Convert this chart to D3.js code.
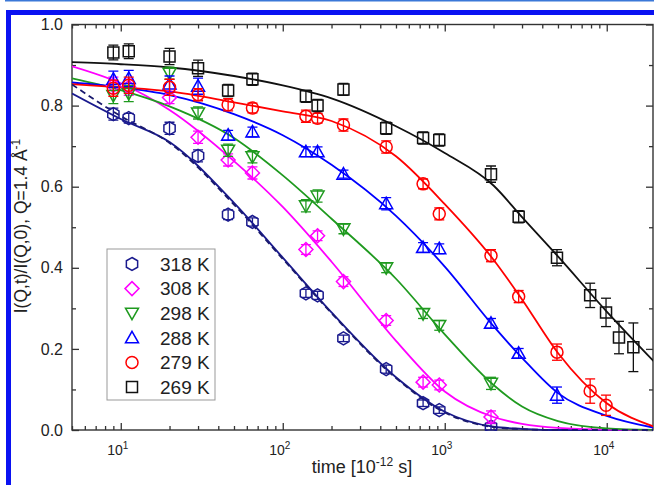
<!DOCTYPE html>
<html><head><meta charset="utf-8">
<script src="https://cdn.jsdelivr.net/npm/d3@7"></script>
<style>
body{margin:0;background:#fff}
svg{display:block}
text{font-family:Arial,"Liberation Sans",sans-serif;fill:#222}
</style>
</head><body>
<svg id="chart" width="654" height="485"></svg>
<script>
// ---- data ----
const times = [9, 11.2, 20, 30, 46, 65, 139, 164, 237, 435, 735, 925, 1930, 2860, 4930, 7900, 9900, 11900, 14600];
const seriesNames = ["318 K", "308 K", "298 K", "288 K", "279 K", "269 K"];
const seriesColors = ["#1a1a8e", "#ff00ff", "#1f9a1f", "#0000ff", "#ff0000", "#111111"];
const seriesShapes = ["hexagon", "diamond", "triDown", "triUp", "circle", "square"];

const v318 = [0.779, 0.769, 0.744, 0.676, 0.531, 0.513, 0.337, 0.332, 0.226, 0.150, 0.066, 0.049, 0.008];
const v308 = [0.850, 0.845, 0.820, 0.722, 0.666, 0.634, 0.445, 0.479, 0.366, 0.270, 0.118, 0.111, 0.032];
const v298 = [0.825, 0.830, 0.880, 0.782, 0.690, 0.674, 0.553, 0.577, 0.496, 0.400, 0.287, 0.258, 0.115];
const v288 = [0.865, 0.867, 0.853, 0.848, 0.727, 0.735, 0.686, 0.686, 0.631, 0.558, 0.450, 0.447, 0.263, 0.189, 0.086];
const v279 = [0.843, 0.850, 0.845, 0.827, 0.802, 0.794, 0.774, 0.769, 0.752, 0.698, 0.607, 0.533, 0.430, 0.329, 0.192, 0.096, 0.061];
const v269 = [0.931, 0.934, 0.921, 0.892, 0.837, 0.865, 0.823, 0.800, 0.840, 0.744, 0.720, 0.715, 0.631, 0.526, 0.425, 0.332, 0.290, 0.228, 0.204];

const e318 = [0.015, 0.012, 0.015, 0.015, 0.012, 0.010, 0.010, 0.010, 0.008, 0.010, 0.008, 0.008, 0.008];
const e308 = [0.020, 0.020, 0.015, 0.015, 0.015, 0.015, 0.012, 0.012, 0.012, 0.012, 0.012, 0.012, 0.015];
const e298 = [0.020, 0.020, 0.015, 0.015, 0.015, 0.015, 0.015, 0.015, 0.012, 0.012, 0.012, 0.012, 0.015];
const e288 = [0.020, 0.020, 0.020, 0.020, 0.012, 0.012, 0.012, 0.012, 0.010, 0.015, 0.012, 0.012, 0.012, 0.012, 0.020];
const e279 = [0.020, 0.020, 0.020, 0.015, 0.015, 0.012, 0.015, 0.012, 0.015, 0.015, 0.012, 0.015, 0.015, 0.015, 0.020, 0.030, 0.025];
const e269 = [0.018, 0.018, 0.020, 0.020, 0.015, 0.015, 0.015, 0.015, 0.015, 0.015, 0.015, 0.015, 0.020, 0.015, 0.020, 0.030, 0.035, 0.040, 0.060];

// fit curves
const fitT = [5, 10, 20, 50, 100, 200, 500, 1000, 2000, 3000, 5000, 10000, 20000];
const fit318 = [0.830, 0.767, 0.710, 0.560, 0.425, 0.290, 0.130, 0.045, 0.008, 0.003, 0.000, 0.000, 0.000];
const fit318dash = [0.852, 0.774, 0.708, 0.556, 0.422, 0.288, 0.128, 0.043, 0.007, 0.002, 0.000, 0.000, 0.000];
const fit308 = [0.897, 0.855, 0.789, 0.663, 0.550, 0.415, 0.220, 0.095, 0.032, 0.015, 0.005, 0.001, 0.000];
const fit298 = [0.867, 0.838, 0.798, 0.720, 0.628, 0.521, 0.373, 0.236, 0.111, 0.058, 0.022, 0.004, 0.000];
const fit288 = [0.857, 0.845, 0.826, 0.779, 0.727, 0.654, 0.528, 0.403, 0.256, 0.178, 0.091, 0.035, 0.005];
const fit279 = [0.853, 0.845, 0.835, 0.808, 0.786, 0.762, 0.675, 0.557, 0.420, 0.322, 0.190, 0.066, 0.007];
const fit269 = [0.907, 0.902, 0.894, 0.873, 0.850, 0.818, 0.749, 0.683, 0.603, 0.525, 0.428, 0.292, 0.165];

const xMajorTicks = [10, 100, 1000, 10000];
const xMajorLabels = ["1", "2", "3", "4"];
const yMajorTicks = [0.0, 0.2, 0.4, 0.6, 0.8, 1.0];
const yMinorTicks = [0.1, 0.3, 0.5, 0.7, 0.9];

// ---- build ----
const values = [v318, v308, v298, v288, v279, v269];
const errors = [e318, e308, e298, e288, e279, e269];
const fits = [fit318, fit308, fit298, fit288, fit279, fit269];

const svg = d3.select("#chart");
const L = 72, R = 653, T = 24.5, B = 430;
const x = d3.scaleLog().domain([5, 20000]).range([L, 655.5]);
const y = d3.scaleLinear().domain([0, 1]).range([B, T]);

// frame decoration
svg.append("rect").attr("x", 5).attr("y", 0).attr("width", 649).attr("height", 1.5).attr("fill", "#3b78d8");
svg.append("rect").attr("x", 6).attr("y", 10).attr("width", 648).attr("height", 5).attr("fill", "#0a12f2");
svg.append("rect").attr("x", 6).attr("y", 10).attr("width", 5).attr("height", 475).attr("fill", "#0a12f2");

// minor x ticks
const xMinor = [];
for (let d = 1; d <= 10000; d *= 10) for (let k = 2; k <= 9; k++) { const v = k * d; if (v >= 5 && v <= 20000) xMinor.push(v); }

const axG = svg.append("g");
function styleAxis(g) { g.select(".domain").remove(); g.selectAll("line").attr("stroke", "#333").attr("stroke-width", 1.3); }
axG.append("g").attr("transform", `translate(0,${B})`).call(d3.axisBottom(x).tickValues(xMajorTicks).tickSize(-7).tickFormat(() => "")).call(styleAxis);
axG.append("g").attr("transform", `translate(0,${B})`).call(d3.axisBottom(x).tickValues(xMinor).tickSize(-4).tickFormat(() => "")).call(styleAxis);
axG.append("g").attr("transform", `translate(0,${T})`).call(d3.axisTop(x).tickValues(xMajorTicks).tickSize(-7).tickFormat(() => "")).call(styleAxis);
axG.append("g").attr("transform", `translate(0,${T})`).call(d3.axisTop(x).tickValues(xMinor).tickSize(-4).tickFormat(() => "")).call(styleAxis);
const yl = axG.append("g").attr("transform", `translate(${L},0)`).call(d3.axisLeft(y).tickValues(yMajorTicks).tickSize(-7).tickPadding(9).tickFormat(d3.format(".1f"))).call(styleAxis);
yl.selectAll("text").attr("font-size", 16).attr("fill", "#333").style("font-family", "Arial, 'Liberation Sans', sans-serif");
axG.append("g").attr("transform", `translate(${L},0)`).call(d3.axisLeft(y).tickValues(yMinorTicks).tickSize(-4).tickFormat(() => "")).call(styleAxis);
axG.append("g").attr("transform", `translate(${R},0)`).call(d3.axisRight(y).tickValues(yMajorTicks).tickSize(-7).tickFormat(() => "")).call(styleAxis);
axG.append("g").attr("transform", `translate(${R},0)`).call(d3.axisRight(y).tickValues(yMinorTicks).tickSize(-4).tickFormat(() => "")).call(styleAxis);

// x tick labels with superscripts
xMajorTicks.forEach((t, i) => {
  const tx = svg.append("text").attr("x", x(t) - 3).attr("y", 455).attr("text-anchor", "middle").attr("font-size", 14).attr("fill", "#333");
  tx.append("tspan").text("10");
  tx.append("tspan").attr("dy", -6).attr("font-size", 10).text(xMajorLabels[i]);
});

// axis frame
svg.append("rect").attr("x", L).attr("y", T).attr("width", R - L).attr("height", B - T)
  .attr("fill", "none").attr("stroke", "#333").attr("stroke-width", 1.4);

// axis titles
const xt = svg.append("text").attr("x", 362).attr("y", 473).attr("text-anchor", "middle").attr("font-size", 18).attr("fill", "#222");
xt.append("tspan").text("time [10");
xt.append("tspan").attr("dy", -7).attr("font-size", 12).text("-12");
xt.append("tspan").attr("dy", 7).text(" s]");

const yt = svg.append("text").attr("transform", "translate(27,226) rotate(-90)").attr("text-anchor", "middle").attr("font-size", 17.5).attr("fill", "#222");
yt.append("tspan").text("I(Q,t)/I(Q,0),  Q=1.4 Å");
yt.append("tspan").attr("dy", -7).attr("font-size", 12).text("-1");

// clip
svg.append("clipPath").attr("id", "clip").append("rect").attr("x", L).attr("y", T).attr("width", R - L).attr("height", B - T + 1);
const plot = svg.append("g").attr("clip-path", "url(#clip)");

const line = d3.line().x(d => x(d[0])).y(d => y(d[1])).curve(d3.curveMonotoneX);
fits.forEach((f, i) => {
  plot.append("path").attr("d", line(fitT.map((t, j) => [t, f[j]])))
    .attr("fill", "none").attr("stroke", seriesColors[i]).attr("stroke-width", 1.8);
});
plot.append("path").attr("d", line(fitT.map((t, j) => [t, fit318dash[j]])))
  .attr("fill", "none").attr("stroke", "#1a1a6e").attr("stroke-width", 1.8).attr("stroke-dasharray", "6,4");

function shapePath(type) {
  const p = d3.path();
  if (type === "square") { p.rect(-5.5, -5.5, 11, 11); }
  else if (type === "circle") { p.arc(0, 0, 6, 0, 2 * Math.PI); p.closePath(); }
  else if (type === "triUp") { p.moveTo(0, -6.5); p.lineTo(6.5, 5); p.lineTo(-6.5, 5); p.closePath(); }
  else if (type === "triDown") { p.moveTo(0, 6.5); p.lineTo(6.5, -5); p.lineTo(-6.5, -5); p.closePath(); }
  else if (type === "diamond") { p.moveTo(0, -7); p.lineTo(7, 0); p.lineTo(0, 7); p.lineTo(-7, 0); p.closePath(); }
  else if (type === "hexagon") {
    for (let k = 0; k < 6; k++) { const a = -Math.PI / 2 + k * Math.PI / 3; const px = 6.5 * Math.cos(a), py = 6.5 * Math.sin(a); if (k === 0) p.moveTo(px, py); else p.lineTo(px, py); }
    p.closePath();
  }
  return p.toString();
}

values.forEach((vals, i) => {
  const g = plot.append("g");
  const c = seriesColors[i];
  vals.forEach((v, j) => {
    const px = x(times[j]), e = errors[i][j];
    const y1 = y(v + e), y2 = y(v - e);
    g.append("line").attr("x1", px).attr("x2", px).attr("y1", y1).attr("y2", y2).attr("stroke", c).attr("stroke-width", 1.3);
    g.append("line").attr("x1", px - 5).attr("x2", px + 5).attr("y1", y1).attr("y2", y1).attr("stroke", c).attr("stroke-width", 1.3);
    g.append("line").attr("x1", px - 5).attr("x2", px + 5).attr("y1", y2).attr("y2", y2).attr("stroke", c).attr("stroke-width", 1.3);
    g.append("path").attr("d", shapePath(seriesShapes[i])).attr("transform", `translate(${px},${y(v)})`)
      .attr("fill", "none").attr("stroke", c).attr("stroke-width", 1.5);
  });
});

// legend
const lg = svg.append("g");
lg.append("rect").attr("x", 107).attr("y", 249).attr("width", 108).attr("height", 151)
  .attr("fill", "#fff").attr("stroke", "#999").attr("stroke-width", 1);
seriesNames.forEach((n, i) => {
  const cy = 264 + i * 24.6;
  lg.append("path").attr("d", shapePath(seriesShapes[i])).attr("transform", `translate(132,${cy})`)
    .attr("fill", "none").attr("stroke", seriesColors[i]).attr("stroke-width", 1.5);
  lg.append("text").attr("x", 160).attr("y", cy).attr("dy", "0.36em").attr("font-size", 19).attr("fill", "#222").text(n);
});
</script>
</body></html>
